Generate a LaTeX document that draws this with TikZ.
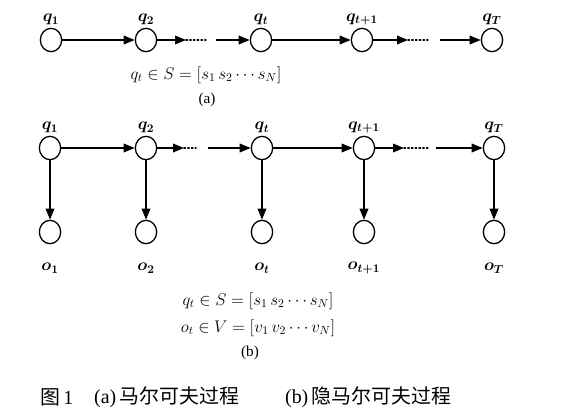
\documentclass[tikz,border=0pt]{standalone}
\usepackage{amsmath, amssymb}
\usepackage{fontspec}
\setmainfont{Liberation Serif}
\newfontfamily\cjk{Noto Sans CJK SC}
\usepackage{tikz}
\usetikzlibrary{shapes, arrows.meta, positioning}

\begin{document}
\begin{tikzpicture}[x=0.03cm, y=-0.03cm,
        state/.style={draw, ellipse, line width=1.1pt, minimum width=0.64cm, minimum height=0.7cm, inner sep=0pt},
        arr/.style={-{Triangle[length=3.3mm, width=2.6mm]}, line width=1.1pt},
        gap/.style={dotted, line width=1.2pt, line cap=round},
        lbl/.style={font=\fontsize{14}{16}\selectfont\boldmath, inner sep=1pt},
        eq/.style={font=\fontsize{14.5}{17}\selectfont}]
        \useasboundingbox (0,0) rectangle (565,412);
        % (a) Markov chain
        \foreach \n/\x/\s in {a1/51/1, a2/146/2, at/261/t, au/362/{t+1}, aT/492/T} {
            \node[state] (\n) at (\x,40) {};
            \node[lbl, above=1pt of \n] (\n-q) {$q_{\s}$};
        }
        \coordinate (a2x) at (186,40);
        \coordinate (a2y) at (206,40);
        \coordinate (at0) at (216,40);
        \coordinate (aux) at (408,40);
        \coordinate (auy) at (428,40);
        \coordinate (aT0) at (440,40);
        \draw[arr] (a1) -- (a2);
        \draw[arr] (a2) -- (a2x);
        \draw[gap] (a2x) -- (a2y);
        \draw[arr] (at0) -- (at);
        \draw[arr] (at) -- (au);
        \draw[arr] (au) -- (aux);
        \draw[gap] (aux) -- (auy);
        \draw[arr] (aT0) -- (aT);
        \node[eq] (a-eq) at (206,75) {$q_t \in S = [s_1\, s_2 \cdots s_N]$};
        \node[lbl, font=\fontsize{13}{15}\selectfont] (a-tag) at (207,100) {(a)};
        % (b) hidden Markov model
        \foreach \n/\x/\s in {b1/50/1, b2/146/2, bt/262/t, bu/364/{t+1}, bT/494/T} {
            \node[state] (\n) at (\x,148) {};
            \node[state] (\n-o) at (\x,232) {};
            \node[lbl, above=1pt of \n] (\n-q) {$q_{\s}$};
            \node[lbl] (\n-l) at (\x,268) {$o_{\s}$};
            \draw[arr] (\n) -- (\n-o);
        }
        \coordinate (b2x) at (184,148);
        \coordinate (b2y) at (196,148);
        \coordinate (bt0) at (208,148);
        \coordinate (bux) at (404,148);
        \coordinate (buy) at (428,148);
        \coordinate (bT0) at (436,148);
        \draw[arr] (b1) -- (b2);
        \draw[arr] (b2) -- (b2x);
        \draw[gap] (b2x) -- (b2y);
        \draw[arr] (bt0) -- (bt);
        \draw[arr] (bt) -- (bu);
        \draw[arr] (bu) -- (bux);
        \draw[gap] (bux) -- (buy);
        \draw[arr] (bT0) -- (bT);
        \node[eq] (b-eq1) at (258,301) {$q_t \in S = [s_1\, s_2 \cdots s_N]$};
        \node[eq] (b-eq2) at (258,328) {$o_t \in V = [v_1\, v_2 \cdots v_N]$};
        \node[lbl, font=\fontsize{13}{15}\selectfont] (b-tag) at (250,353) {(b)};
        % caption
        \node[anchor=west, font=\fontsize{17}{19}\selectfont] (cap0) at (36,397) {{\cjk 图}\,1};
        \node[anchor=west, font=\fontsize{17}{19}\selectfont] (cap1) at (90,397) {(a)\,{\cjk 马尔可夫过程}};
        \node[anchor=west, font=\fontsize{17}{19}\selectfont] (cap2) at (281,397) {(b)\,{\cjk 隐马尔可夫过程}};
    \end{tikzpicture}
\end{document}
